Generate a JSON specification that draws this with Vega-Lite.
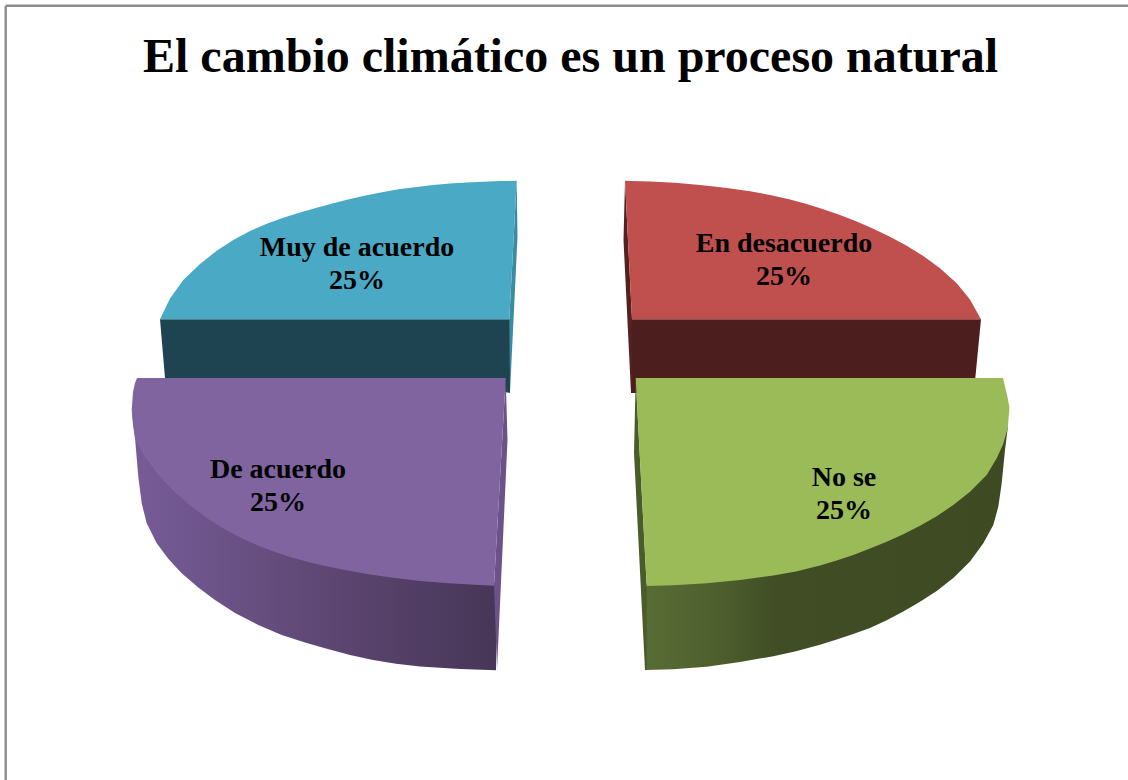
{
"$schema":"https://vega.github.io/schema/vega-lite/v6.json",
"width":1128,"height":780,"autosize":{"type":"none"},"padding":0,"background":"white",
"view":{"stroke":null},
"title":{"text":"El cambio climático es un proceso natural","font":"Liberation Serif","fontSize":48,"fontWeight":"bold","color":"#000000","anchor":"start","frame":"group","dx":143,"dy":120,"baseline":"alphabetic","offset":0},
"datasets":{
"frame":[{"x":5.7,"y":5.7,"x2":5.7,"y2":780},{"x":5.7,"y":5.7,"x2":1128,"y2":5.7}],
"tealFace":[{"x":160,"y":319.3,"y2":319.3},{"x":165,"y":319.3,"y2":378},{"x":505,"y":319.3,"y2":392},{"x":510,"y":319.3,"y2":393}],
"tealStrip":[{"x":509.3,"y":319.3,"y2":319.3},{"x":510,"y":306,"y2":393},{"x":516.7,"y":180.7,"y2":253.6},{"x":517.5,"y":237,"y2":237}],
"tealTop":[{"x":160,"y":319.3,"y2":319.3},{"x":170,"y":298.5,"y2":319.3},{"x":183.3,"y":280,"y2":319.3},{"x":200,"y":264,"y2":319.3},{"x":216.7,"y":250.8,"y2":319.3},{"x":233.3,"y":240,"y2":319.3},{"x":250,"y":231,"y2":319.3},{"x":266.7,"y":223.7,"y2":319.3},{"x":283.3,"y":217.7,"y2":319.3},{"x":300,"y":212.6,"y2":319.3},{"x":316.7,"y":207.8,"y2":319.3},{"x":333.3,"y":203.2,"y2":319.3},{"x":350,"y":199,"y2":319.3},{"x":366.7,"y":195.2,"y2":319.3},{"x":383.3,"y":191.9,"y2":319.3},{"x":400,"y":189.1,"y2":319.3},{"x":416.7,"y":186.9,"y2":319.3},{"x":433.3,"y":185,"y2":319.3},{"x":450,"y":183.6,"y2":319.3},{"x":466.7,"y":182.5,"y2":319.3},{"x":483.3,"y":181.7,"y2":319.3},{"x":500,"y":181.1,"y2":319.3},{"x":509.3,"y":180.9,"y2":319.3},{"x":516.7,"y":180.7,"y2":180.7}],
"redFace":[{"x":631,"y":319.3,"y2":393},{"x":636,"y":319.3,"y2":393},{"x":975.3,"y":319.3,"y2":378},{"x":981,"y":319.3,"y2":319.3}],
"redStrip":[{"x":623.5,"y":240,"y2":240},{"x":625,"y":181,"y2":270.6},{"x":631,"y":299.5,"y2":393},{"x":632,"y":319.3,"y2":393}],
"redTop":[{"x":625,"y":180.7,"y2":180.7},{"x":632,"y":181,"y2":319.3},{"x":650,"y":181.4,"y2":319.3},{"x":675,"y":182.8,"y2":319.3},{"x":700,"y":184.9,"y2":319.3},{"x":725,"y":187.7,"y2":319.3},{"x":750,"y":191.2,"y2":319.3},{"x":770,"y":195,"y2":319.3},{"x":790,"y":199.4,"y2":319.3},{"x":806.7,"y":204,"y2":319.3},{"x":823.3,"y":209.3,"y2":319.3},{"x":840,"y":215,"y2":319.3},{"x":856.7,"y":221.5,"y2":319.3},{"x":873.3,"y":228.7,"y2":319.3},{"x":890,"y":236.7,"y2":319.3},{"x":906.7,"y":245.7,"y2":319.3},{"x":923.3,"y":256,"y2":319.3},{"x":940,"y":268.3,"y2":319.3},{"x":956.7,"y":283.3,"y2":319.3},{"x":970,"y":299.5,"y2":319.3},{"x":981,"y":319.3,"y2":319.3}],
"purpleSide":[{"x":132,"y":410,"y2":412},{"x":135,"y":430,"y2":438},{"x":138.3,"y":440,"y2":476.7},{"x":141.7,"y":448,"y2":503.3},{"x":146.7,"y":456,"y2":523.3},{"x":156.7,"y":470,"y2":543.3},{"x":168.3,"y":483,"y2":558.8},{"x":181.7,"y":495,"y2":573.3},{"x":198.3,"y":508,"y2":587.5},{"x":215,"y":520,"y2":600},{"x":235,"y":531,"y2":613},{"x":258.3,"y":542,"y2":625},{"x":281.7,"y":551,"y2":635},{"x":305,"y":558,"y2":642.5},{"x":325,"y":563,"y2":648.3},{"x":350,"y":568,"y2":655},{"x":373,"y":572,"y2":660},{"x":396,"y":575,"y2":663.8},{"x":420,"y":578,"y2":666.5},{"x":460,"y":580,"y2":669},{"x":496,"y":583,"y2":670.3}],
"purpleStrip":[{"x":494,"y":585.7,"y2":585.7},{"x":497,"y":532,"y2":670},{"x":505.7,"y":378,"y2":479.4},{"x":507.5,"y":440,"y2":440}],
"purpleTop":[{"x":131.7,"y":410,"y2":410},{"x":133,"y":392,"y2":425},{"x":135,"y":383,"y2":438.3},{"x":137,"y":378,"y2":443},{"x":145,"y":378,"y2":456.7},{"x":158.3,"y":378,"y2":475},{"x":175,"y":378,"y2":492.5},{"x":191.7,"y":378,"y2":506.7},{"x":208.3,"y":378,"y2":519},{"x":225,"y":378,"y2":529.5},{"x":241.7,"y":378,"y2":538.3},{"x":258.3,"y":378,"y2":545.7},{"x":275,"y":378,"y2":552},{"x":291.7,"y":378,"y2":557.5},{"x":308.3,"y":378,"y2":562},{"x":325,"y":378,"y2":566},{"x":345,"y":378,"y2":570},{"x":370,"y":378,"y2":574.5},{"x":395,"y":378,"y2":578},{"x":420,"y":378,"y2":581},{"x":445,"y":378,"y2":583},{"x":470,"y":378,"y2":584.6},{"x":494,"y":378,"y2":585.7},{"x":505.7,"y":378,"y2":378}],
"greenSide":[{"x":645,"y":584,"y2":670},{"x":673,"y":582,"y2":669.3},{"x":706.7,"y":580,"y2":666.7},{"x":740,"y":577,"y2":661.9},{"x":773.3,"y":572,"y2":656.3},{"x":796,"y":567,"y2":651.3},{"x":820,"y":561,"y2":644.8},{"x":836.7,"y":557,"y2":639.5},{"x":853.3,"y":551,"y2":634},{"x":870,"y":545,"y2":628},{"x":886.7,"y":538,"y2":620.3},{"x":903.3,"y":531,"y2":611.5},{"x":920,"y":523,"y2":601.7},{"x":936.7,"y":513,"y2":591},{"x":953.3,"y":502,"y2":578},{"x":970,"y":488,"y2":561.5},{"x":983.3,"y":475,"y2":543.3},{"x":993.3,"y":460,"y2":525},{"x":998.3,"y":452,"y2":506.7},{"x":1001.7,"y":445,"y2":483.3},{"x":1005,"y":436,"y2":450},{"x":1007.7,"y":425,"y2":428.3}],
"greenStrip":[{"x":634,"y":453,"y2":453},{"x":635.7,"y":378,"y2":486.6},{"x":645,"y":554,"y2":670},{"x":646.7,"y":586,"y2":670}],
"greenTop":[{"x":635.7,"y":378,"y2":378},{"x":646.7,"y":378,"y2":586},{"x":673.3,"y":378,"y2":585.2},{"x":706.7,"y":378,"y2":583.3},{"x":740,"y":378,"y2":580},{"x":773.3,"y":378,"y2":575.5},{"x":796,"y":378,"y2":571.5},{"x":820,"y":378,"y2":565.5},{"x":836.7,"y":378,"y2":560.5},{"x":853.3,"y":378,"y2":555},{"x":870,"y":378,"y2":548.5},{"x":886.7,"y":378,"y2":541.7},{"x":903.3,"y":378,"y2":534.2},{"x":920,"y":378,"y2":525.7},{"x":936.7,"y":378,"y2":516.3},{"x":953.3,"y":378,"y2":505},{"x":970,"y":378,"y2":491.7},{"x":986.7,"y":378,"y2":475},{"x":996.7,"y":378,"y2":458.3},{"x":1003,"y":378,"y2":444.5},{"x":1007.7,"y":398,"y2":428.3},{"x":1009.3,"y":407,"y2":410}],
"labels":[{"label":"Muy de acuerdo\n25%","share":25,"x":357,"y":256},{"label":"En desacuerdo\n25%","share":25,"x":784,"y":252},{"label":"De acuerdo\n25%","share":25,"x":278,"y":478},{"label":"No se\n25%","share":25,"x":844,"y":486}]
},
"layer":[
{"data":{"name":"frame"},"mark":{"type":"rule","color":"#8c8c8c","strokeWidth":2.4},"encoding":{"x":{"field":"x","type":"quantitative","scale":{"domain":[0,1128],"nice":false,"zero":false},"axis":null},"y":{"field":"y","type":"quantitative","scale":{"domain":[780,0],"nice":false,"zero":false},"axis":null},"x2":{"field":"x2"},"y2":{"field":"y2"}}},
{"data":{"name":"tealFace"},"mark":{"type":"area","color":"#1f4451"},"encoding":{"x":{"field":"x","type":"quantitative","axis":null},"y":{"field":"y","type":"quantitative","axis":null},"y2":{"field":"y2"}}},
{"data":{"name":"tealStrip"},"mark":{"type":"area","color":"#3b8ca3"},"encoding":{"x":{"field":"x","type":"quantitative","axis":null},"y":{"field":"y","type":"quantitative","axis":null},"y2":{"field":"y2"}}},
{"data":{"name":"tealTop"},"mark":{"type":"area","color":"#4aa9c4"},"encoding":{"x":{"field":"x","type":"quantitative","axis":null},"y":{"field":"y","type":"quantitative","axis":null},"y2":{"field":"y2"}}},
{"data":{"name":"redFace"},"mark":{"type":"area","color":"#4c1f1e"},"encoding":{"x":{"field":"x","type":"quantitative","axis":null},"y":{"field":"y","type":"quantitative","axis":null},"y2":{"field":"y2"}}},
{"data":{"name":"redStrip"},"mark":{"type":"area","color":"#55211f"},"encoding":{"x":{"field":"x","type":"quantitative","axis":null},"y":{"field":"y","type":"quantitative","axis":null},"y2":{"field":"y2"}}},
{"data":{"name":"redTop"},"mark":{"type":"area","color":"#c0504d"},"encoding":{"x":{"field":"x","type":"quantitative","axis":null},"y":{"field":"y","type":"quantitative","axis":null},"y2":{"field":"y2"}}},
{"data":{"name":"purpleSide"},"mark":{"type":"area","color":{"gradient":"linear","x1":0,"y1":0,"x2":1,"y2":0,"stops":[{"offset":0,"color":"#775c98"},{"offset":0.5,"color":"#5f4875"},{"offset":1,"color":"#473657"}]}},"encoding":{"x":{"field":"x","type":"quantitative","axis":null},"y":{"field":"y","type":"quantitative","axis":null},"y2":{"field":"y2"}}},
{"data":{"name":"purpleStrip"},"mark":{"type":"area","color":"#6b5289"},"encoding":{"x":{"field":"x","type":"quantitative","axis":null},"y":{"field":"y","type":"quantitative","axis":null},"y2":{"field":"y2"}}},
{"data":{"name":"purpleTop"},"mark":{"type":"area","color":"#8064a0"},"encoding":{"x":{"field":"x","type":"quantitative","axis":null},"y":{"field":"y","type":"quantitative","axis":null},"y2":{"field":"y2"}}},
{"data":{"name":"greenSide"},"mark":{"type":"area","color":{"gradient":"linear","x1":0,"y1":0,"x2":1,"y2":0,"stops":[{"offset":0,"color":"#596c35"},{"offset":0.2,"color":"#4e5f2e"},{"offset":0.37,"color":"#404d25"},{"offset":1,"color":"#3e4a22"}]}},"encoding":{"x":{"field":"x","type":"quantitative","axis":null},"y":{"field":"y","type":"quantitative","axis":null},"y2":{"field":"y2"}}},
{"data":{"name":"greenStrip"},"mark":{"type":"area","color":"#4b5c2b"},"encoding":{"x":{"field":"x","type":"quantitative","axis":null},"y":{"field":"y","type":"quantitative","axis":null},"y2":{"field":"y2"}}},
{"data":{"name":"greenTop"},"mark":{"type":"area","color":"#9bbb59"},"encoding":{"x":{"field":"x","type":"quantitative","axis":null},"y":{"field":"y","type":"quantitative","axis":null},"y2":{"field":"y2"}}},
{"data":{"name":"labels"},"mark":{"type":"text","font":"Liberation Serif","fontSize":28,"fontWeight":"bold","color":"#000000","align":"center","baseline":"alphabetic","lineBreak":"\n","lineHeight":33},"encoding":{"x":{"field":"x","type":"quantitative","axis":null},"y":{"field":"y","type":"quantitative","axis":null},"text":{"field":"label","type":"nominal"}}}
]
}
